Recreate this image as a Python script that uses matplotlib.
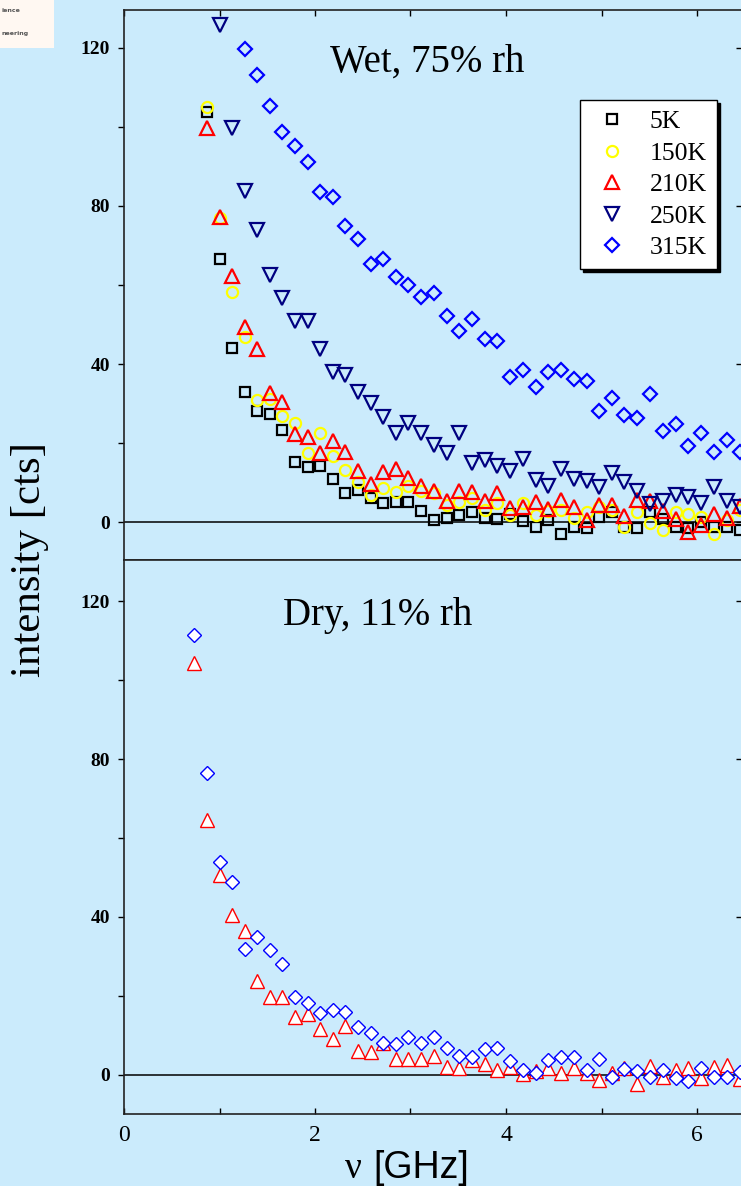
import numpy as np
import matplotlib
matplotlib.use("Agg")
import matplotlib.pyplot as plt
from matplotlib.patches import Rectangle

# frequency grid [GHz]
freq = [0.73, 0.87, 1.00, 1.13, 1.27, 1.39, 1.53, 1.65, 1.79, 1.93, 2.05,
        2.19, 2.31, 2.45, 2.59, 2.71, 2.85, 2.97, 3.11, 3.25, 3.38, 3.51,
        3.64, 3.78, 3.91, 4.04, 4.18, 4.31, 4.44, 4.58, 4.71, 4.85, 4.97,
        5.11, 5.24, 5.37, 5.51, 5.64, 5.78, 5.91, 6.04, 6.18, 6.31, 6.45]

# wet, 75% rh
wet_5K = [103.8, 66.6, 44.1, 32.9, 28.1, 27.3, 23.3, 15.2, 13.9, 14.2, 10.9,
          7.3, 8.1, 6.1, 4.8, 5.1, 5.1, 2.8, 0.5, 1.0, 1.8, 2.5, 1.0, 0.8,
          2.0, 0.3, -1.3, 0.5, -3.0, -1.3, -1.5, 1.3, 2.5, -1.3, -1.5, 2.5,
          0.8, -1.3, -1.5, 0.0, -1.3, -1.3, -2.0]
wet_150K = [105.1, 77.0, 58.2, 46.8, 30.9, 31.1, 26.8, 25.1, 17.5, 22.5, 16.7,
            13.2, 10.1, 6.8, 8.6, 7.6, 9.1, 7.8, 7.3, 4.3, 5.1, 6.1, 3.0, 4.8,
            1.8, 4.8, 1.8, 2.8, 3.0, 1.0, 2.5, 3.8, 3.0, -1.3, 2.5, -0.3,
            -2.0, 2.5, 2.0, 1.3, -3.0, 0.5, 3.0]
wet_210K = [99.7, 77.2, 62.3, 49.4, 43.8, 32.7, 30.4, 22.3, 21.5, 17.5, 20.5,
            17.7, 12.9, 9.6, 12.7, 13.4, 11.1, 9.1, 7.8, 5.3, 7.8, 7.6, 5.3,
            7.3, 3.5, 3.8, 5.1, 3.3, 5.6, 3.8, 0.5, 4.3, 4.3, 1.5, 5.6, 5.3,
            2.8, 0.8, -2.5, -0.8, 2.0, 1.0, 4.1]
wet_250K = [125.8, 99.7, 83.8, 73.9, 62.5, 56.7, 50.9, 50.9, 43.8, 38.0, 37.2,
            32.9, 30.1, 26.6, 22.5, 25.1, 22.5, 19.5, 17.5, 22.5, 14.9, 15.7,
            14.2, 12.9, 15.9, 10.6, 9.1, 13.4, 10.9, 10.4, 8.9, 12.4, 10.1,
            7.8, 4.6, 5.3, 6.8, 6.3, 4.8, 8.9, 5.3, 3.8]
wet_315K = [119.7, 113.2, 105.3, 98.7, 95.2, 91.1, 83.5, 82.3, 74.9, 71.6,
            65.3, 66.6, 62.0, 60.0, 57.0, 58.0, 52.2, 48.4, 51.4, 46.3, 45.8,
            36.7, 38.5, 34.2, 38.0, 38.5, 36.2, 35.7, 28.1, 31.4, 27.1, 26.3,
            32.4, 23.0, 24.8, 19.2, 22.5, 17.7, 20.8, 17.7]

# dry, 11% rh
dry_210K = [104.3, 64.6, 50.6, 40.5, 36.5, 23.8, 19.7, 19.7, 14.7, 15.4, 11.6,
            9.1, 12.4, 6.1, 5.8, 8.1, 4.1, 4.1, 4.1, 4.8, 2.0, 1.8, 3.8, 2.8,
            1.3, 2.0, 0.3, 1.0, 1.8, 0.5, 1.8, 0.5, -1.3, 0.5, 1.8, -2.3, 2.3,
            -0.5, 1.3, 1.8, -0.8, 2.0, 2.5, -1.0]
dry_315K = [111.4, 76.5, 53.9, 48.9, 31.9, 34.9, 31.6, 28.1, 19.7, 18.2, 15.7,
            16.5, 15.9, 12.2, 10.6, 8.1, 7.8, 9.6, 8.1, 9.6, 6.8, 4.8, 4.6, 6.6,
            6.8, 3.5, 1.3, 0.5, 3.8, 4.6, 4.6, 1.3, 4.1, -0.5, 1.5, 1.0, -0.5,
            1.3, -0.8, -1.5, 1.8, -0.5, -0.5, 0.8]

bg = '#CBEBFC'
serif = 'Liberation Serif'
sans = 'Liberation Sans'

W, H = 741, 1186
fig = plt.figure(figsize=(W / 100, H / 100), dpi=100, facecolor=bg)

x0 = 124 / W
aw = (742 - 124) / W
ax1 = fig.add_axes([x0, 1 - 560 / H, aw, 550 / H])
ax2 = fig.add_axes([x0, 1 - 1114 / H, aw, 554 / H])

xmax = (742 - 124) / 95.5


def style(ax, ylim, bottom_labels):
    ax.set_facecolor(bg)
    ax.set_xlim(0, xmax)
    ax.set_ylim(*ylim)
    for s in ax.spines.values():
        s.set_color('#222222')
        s.set_linewidth(1.2)
    ax.set_yticks([0, 40, 80, 120])
    ax.set_yticks([20, 60, 100], minor=True)
    ax.set_xticks([0, 2, 4, 6])
    ax.set_xticks([1, 3, 5], minor=True)
    ax.tick_params(axis='y', which='both', direction='out', length=4,
                   width=1, left=True, right=False, pad=6)
    ax.tick_params(axis='x', which='both', direction='in', length=4, width=1,
                   bottom=bottom_labels, top=not bottom_labels,
                   labelbottom=bottom_labels, pad=8)
    for lab in ax.get_yticklabels():
        lab.set_fontfamily(serif)
        lab.set_fontweight('bold')
        lab.set_fontsize(14)
    for lab in ax.get_xticklabels():
        lab.set_fontfamily(serif)
        lab.set_fontsize(17)
    # right-hand ticks
    sec = ax.secondary_yaxis('right')
    sec.set_yticks([0, 40, 80, 120])
    sec.tick_params(direction='in', length=4, width=1, labelright=False)
    sec.spines['right'].set_visible(False)
    ax.axhline(0, color='black', lw=1.1, zorder=1)


style(ax1, (-9.6, 129.6), False)
style(ax2, (-9.9, 130.4), True)

mw = 1.6
ax1.plot(freq[1:], wet_5K, ls='none', marker='s', ms=7.5, mfc='none',
         mec='black', mew=mw, label='5K', clip_on=False)
ax1.plot(freq[1:], wet_150K, ls='none', marker='o', ms=8, mfc='none',
         mec='#FFFF00', mew=mw, label='150K', clip_on=False)
ax1.plot(freq[1:], wet_210K, ls='none', marker='^', ms=9.5, mfc='none',
         mec='#FF0000', mew=mw, label='210K', clip_on=False)
ax1.plot(freq[2:], wet_250K, ls='none', marker='v', ms=9.5, mfc='none',
         mec='#000080', mew=mw, label='250K', clip_on=False)
ax1.plot(freq[4:], wet_315K, ls='none', marker='D', ms=7, mfc='none',
         mec='#0000FF', mew=mw, label='315K', clip_on=False)

ax2.plot(freq, dry_210K, ls='none', marker='^', ms=9.5, mfc='white',
         mec='#FF0000', mew=1.0, clip_on=False)
ax2.plot(freq, dry_315K, ls='none', marker='D', ms=7, mfc='white',
         mec='#0000FF', mew=1.0, clip_on=False)

leg = ax1.legend(loc='upper right', bbox_to_anchor=((717 - 124) / 618, (560 - 100) / 550),
                 borderaxespad=0, frameon=True, fancybox=False, framealpha=1,
                 edgecolor='black', facecolor='white',
                 shadow={'color': 'black', 'alpha': 1},
                 prop={'family': serif, 'size': 18.5}, labelspacing=0.33,
                 handlelength=1.7, handletextpad=0.6, borderpad=0.4)
leg.get_frame().set_linewidth(1.0)

ax1.text((427 - 124) / 618, (560 - 72) / 550, 'Wet, 75% rh', transform=ax1.transAxes,
         ha='center', va='baseline', fontfamily=serif, fontsize=28)
ax2.text((378 - 124) / 618, (1114 - 625) / 554, 'Dry, 11% rh', transform=ax2.transAxes,
         ha='center', va='baseline', fontfamily=serif, fontsize=28)

# axis labels
fig.text(30 / W, 1 - 560 / H, 'intensity [cts]', rotation=90, ha='center',
         va='center', fontfamily=serif, fontsize=31)
fig.text(362 / W, 1 - 1178 / H, 'ν', ha='right', va='baseline',
         fontfamily=serif, fontsize=27)
fig.text(373 / W, 1 - 1178 / H, '[GHz]', ha='left', va='baseline',
         fontfamily=sans, fontsize=27)

# cropped logo in the corner
fig.patches.append(Rectangle((0, 1 - 48 / H), 54 / W, 48 / H, transform=fig.transFigure,
                             facecolor='#FFF8F2', edgecolor='none', zorder=0))
fig.text(1 / W, 1 - 10 / H, 'ience', fontsize=4.5, fontweight='bold', color='#555555',
         va='center', ha='left')
fig.text(1 / W, 1 - 33 / H, 'neering', fontsize=4.5, fontweight='bold', color='#555555',
         va='center', ha='left')

fig.savefig('out.png', dpi=100, facecolor=bg)
